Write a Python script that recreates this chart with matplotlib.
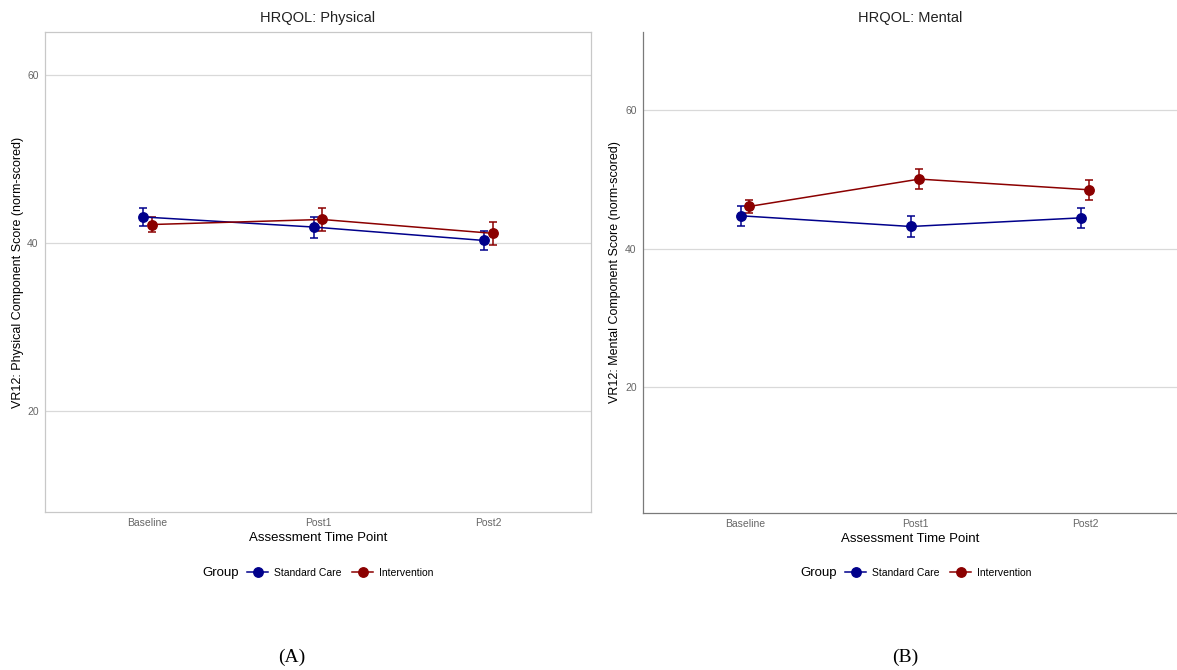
import matplotlib.pyplot as plt
from matplotlib.lines import Line2D
from matplotlib.offsetbox import HPacker

plt.rcParams['font.family'] = ['Liberation Sans', 'DejaVu Sans']

timepoints = ['Baseline', 'Post1', 'Post2']
groups = ['Standard Care', 'Intervention']
colors = {'Standard Care': '#00008B', 'Intervention': '#8B0000'}

# physical component score: mean and half-width of error bar
phys_mean = {'Standard Care': [43.1, 41.9, 40.3], 'Intervention': [42.2, 42.8, 41.15]}
phys_err = {'Standard Care': [1.1, 1.25, 1.15], 'Intervention': [0.9, 1.4, 1.4]}

# mental component score
ment_mean = {'Standard Care': [44.75, 43.2, 44.45], 'Intervention': [46.1, 50.05, 48.5]}
ment_err = {'Standard Care': [1.45, 1.45, 1.4], 'Intervention': [0.95, 1.45, 1.4]}

dodge = {'Standard Care': -0.025, 'Intervention': 0.025}

fig = plt.figure(figsize=(11.77, 6.70), dpi=100)
ax1 = fig.add_axes([0.0382, 0.2358, 0.4639, 0.7164])
ax2 = fig.add_axes([0.5463, 0.2343, 0.4537, 0.7179])


def draw(ax, means, errs, title, ylabel, ylim, xlim, label_x):
    x = [1, 2, 3]
    for g in groups:
        xs = [v + dodge[g] for v in x]
        ax.errorbar(xs, means[g], yerr=errs[g], color=colors[g], lw=1.1,
                    marker='o', ms=6.8, capsize=3, capthick=1.1, elinewidth=1.1,
                    zorder=3)
    ax.set_xlim(*xlim)
    ax.set_ylim(*ylim)
    ax.set_xticks(x)
    ax.set_xticklabels(timepoints)
    ax.set_yticks([20, 40, 60])
    ax.yaxis.grid(True, color='#d9d9d9', lw=0.9)
    ax.set_axisbelow(True)
    ax.tick_params(length=0, labelsize=7.5, labelcolor='#666666', pad=4.5)
    ax.set_title(title, fontsize=10.5, color='#222222', pad=7)
    ax.set_xlabel('Assessment Time Point', fontsize=9.5, labelpad=3)
    ax.set_ylabel(ylabel, fontsize=9)
    ax.yaxis.set_label_coords(label_x, 0.5)


draw(ax1, phys_mean, phys_err, 'HRQOL: Physical',
     'VR12: Physical Component Score (norm-scored)', (8, 65.1), (0.4, 3.6), -0.038)
draw(ax2, ment_mean, ment_err, 'HRQOL: Mental',
     'VR12: Mental Component Score (norm-scored)', (1.8, 71.3), (0.4, 3.54), -0.041)

for s in ax1.spines.values():
    s.set_color('#c8c8c8')
    s.set_linewidth(0.9)
ax2.spines['top'].set_visible(False)
ax2.spines['right'].set_visible(False)
for s in ('left', 'bottom'):
    ax2.spines[s].set_color('#7a7a7a')
    ax2.spines[s].set_linewidth(0.9)

handles = [Line2D([0], [0], color=colors[g], lw=1.1, marker='o', ms=6.8) for g in groups]
for cx in (318 / 1177, 916 / 1177):
    leg = fig.legend(handles, groups, loc='center', bbox_to_anchor=(cx, 1 - 573 / 670),
                     ncol=2, frameon=False, fontsize=7.5, title='Group',
                     title_fontsize=9.5, handlelength=2.0, handletextpad=0.6,
                     columnspacing=1.0)
    # put the title on the same row as the entries
    box = leg._legend_box
    box.__class__ = HPacker
    box.sep = 6
    box.align = 'center'

fig.text(292 / 1177, 1 - 657 / 670, '(A)', ha='center', va='center',
         fontsize=14, family=['Liberation Serif', 'DejaVu Serif'])
fig.text(905 / 1177, 1 - 657 / 670, '(B)', ha='center', va='center',
         fontsize=14, family=['Liberation Serif', 'DejaVu Serif'])

fig.savefig('out.png', dpi=100)
